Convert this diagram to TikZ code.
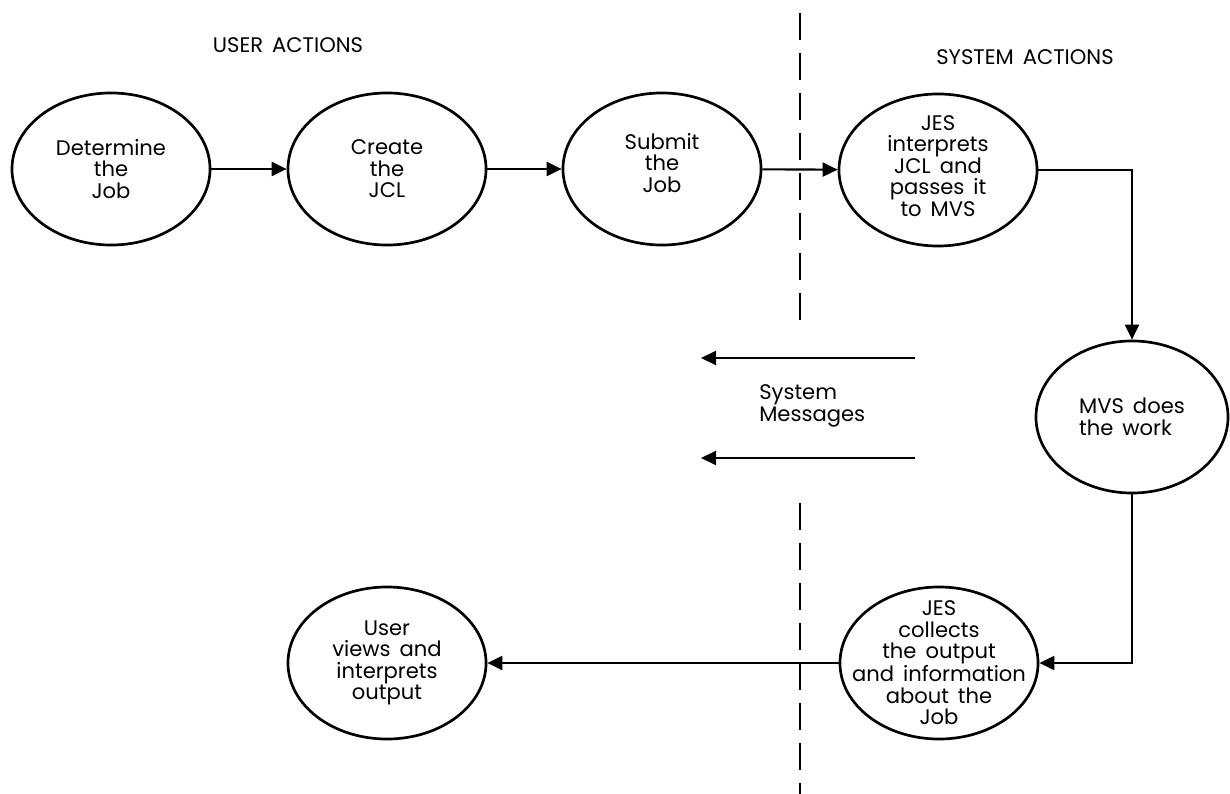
\documentclass[tikz,border=0pt]{standalone}
\usepackage{fontspec}
\setmainfont{Poppins}[WordSpace=1.6]
\usetikzlibrary{shapes.geometric,arrows.meta}

\begin{document}
\begin{tikzpicture}[x=0.025cm,y=-0.025cm,
  txt/.style={align=center,inner sep=0pt,font=\fontsize{15}{15.3}\selectfont},
  actn/.style={draw,ellipse,line width=1.9pt,minimum width=4.95cm,minimum height=3.8cm,inner sep=0pt},
  flow/.style={line width=1.5pt,-{Triangle[length=0.375cm,width=0.35cm]}},
  lane/.style={line width=1.7pt,dash pattern=on 0.68cm off 0.32cm}]
\useasboundingbox (0,0) rectangle (1230,794);
\node[txt] (usr-t) at (288,45) {USER ACTIONS};
\node[txt] (sys-t) at (1025,57) {SYSTEM ACTIONS};
\coordinate (lt) at (800,13);
\coordinate (lm) at (800,322);
\coordinate (lb) at (800,503);
\coordinate (le) at (800,794);
\draw[lane] (lt) -- (lm);
\draw[lane] (lb) -- (le);
\node[actn,label={[txt]center:Determine\\the\\Job}] (det) at (111,169) {};
\node[actn,label={[txt]center:Create\\the\\JCL}] (jcl) at (387,169) {};
\node[actn,label={[txt,yshift=0.15cm]center:Submit\\the\\Job}] (sub) at (662,169) {};
\node[actn,label={[txt,yshift=0.1cm]center:JES\\interprets\\JCL and\\passes it\\to MVS}] (jes1) at (938,170) {};
\node[actn,minimum width=4.8cm,label={[txt,align=left]center:MVS does\\the work}] (mvs) at (1132,417) {};
\node[actn,label={[txt]center:JES\\collects\\the output\\and information\\about the\\Job}] (jes2) at (939,663) {};
\node[actn,label={[txt]center:User\\views and\\interprets\\output}] (view) at (387,663) {};
\node[txt,align=left,anchor=west] (msg) at (759,406) {System\\Messages};
\draw[flow] (det) -- (jcl);
\draw[flow] (jcl) -- (sub);
\draw[flow] (sub) -- (jes1);
\draw[flow] (jes1.east) -| (mvs.north);
\draw[flow] (mvs.south) |- (jes2.east);
\draw[flow] (jes2) -- (view);
\coordinate (m1) at (915,358);
\coordinate (m1e) at (701,358);
\coordinate (m2) at (915,458);
\coordinate (m2e) at (701,458);
\draw[flow] (m1) -- (m1e);
\draw[flow] (m2) -- (m2e);
\end{tikzpicture}
\end{document}
